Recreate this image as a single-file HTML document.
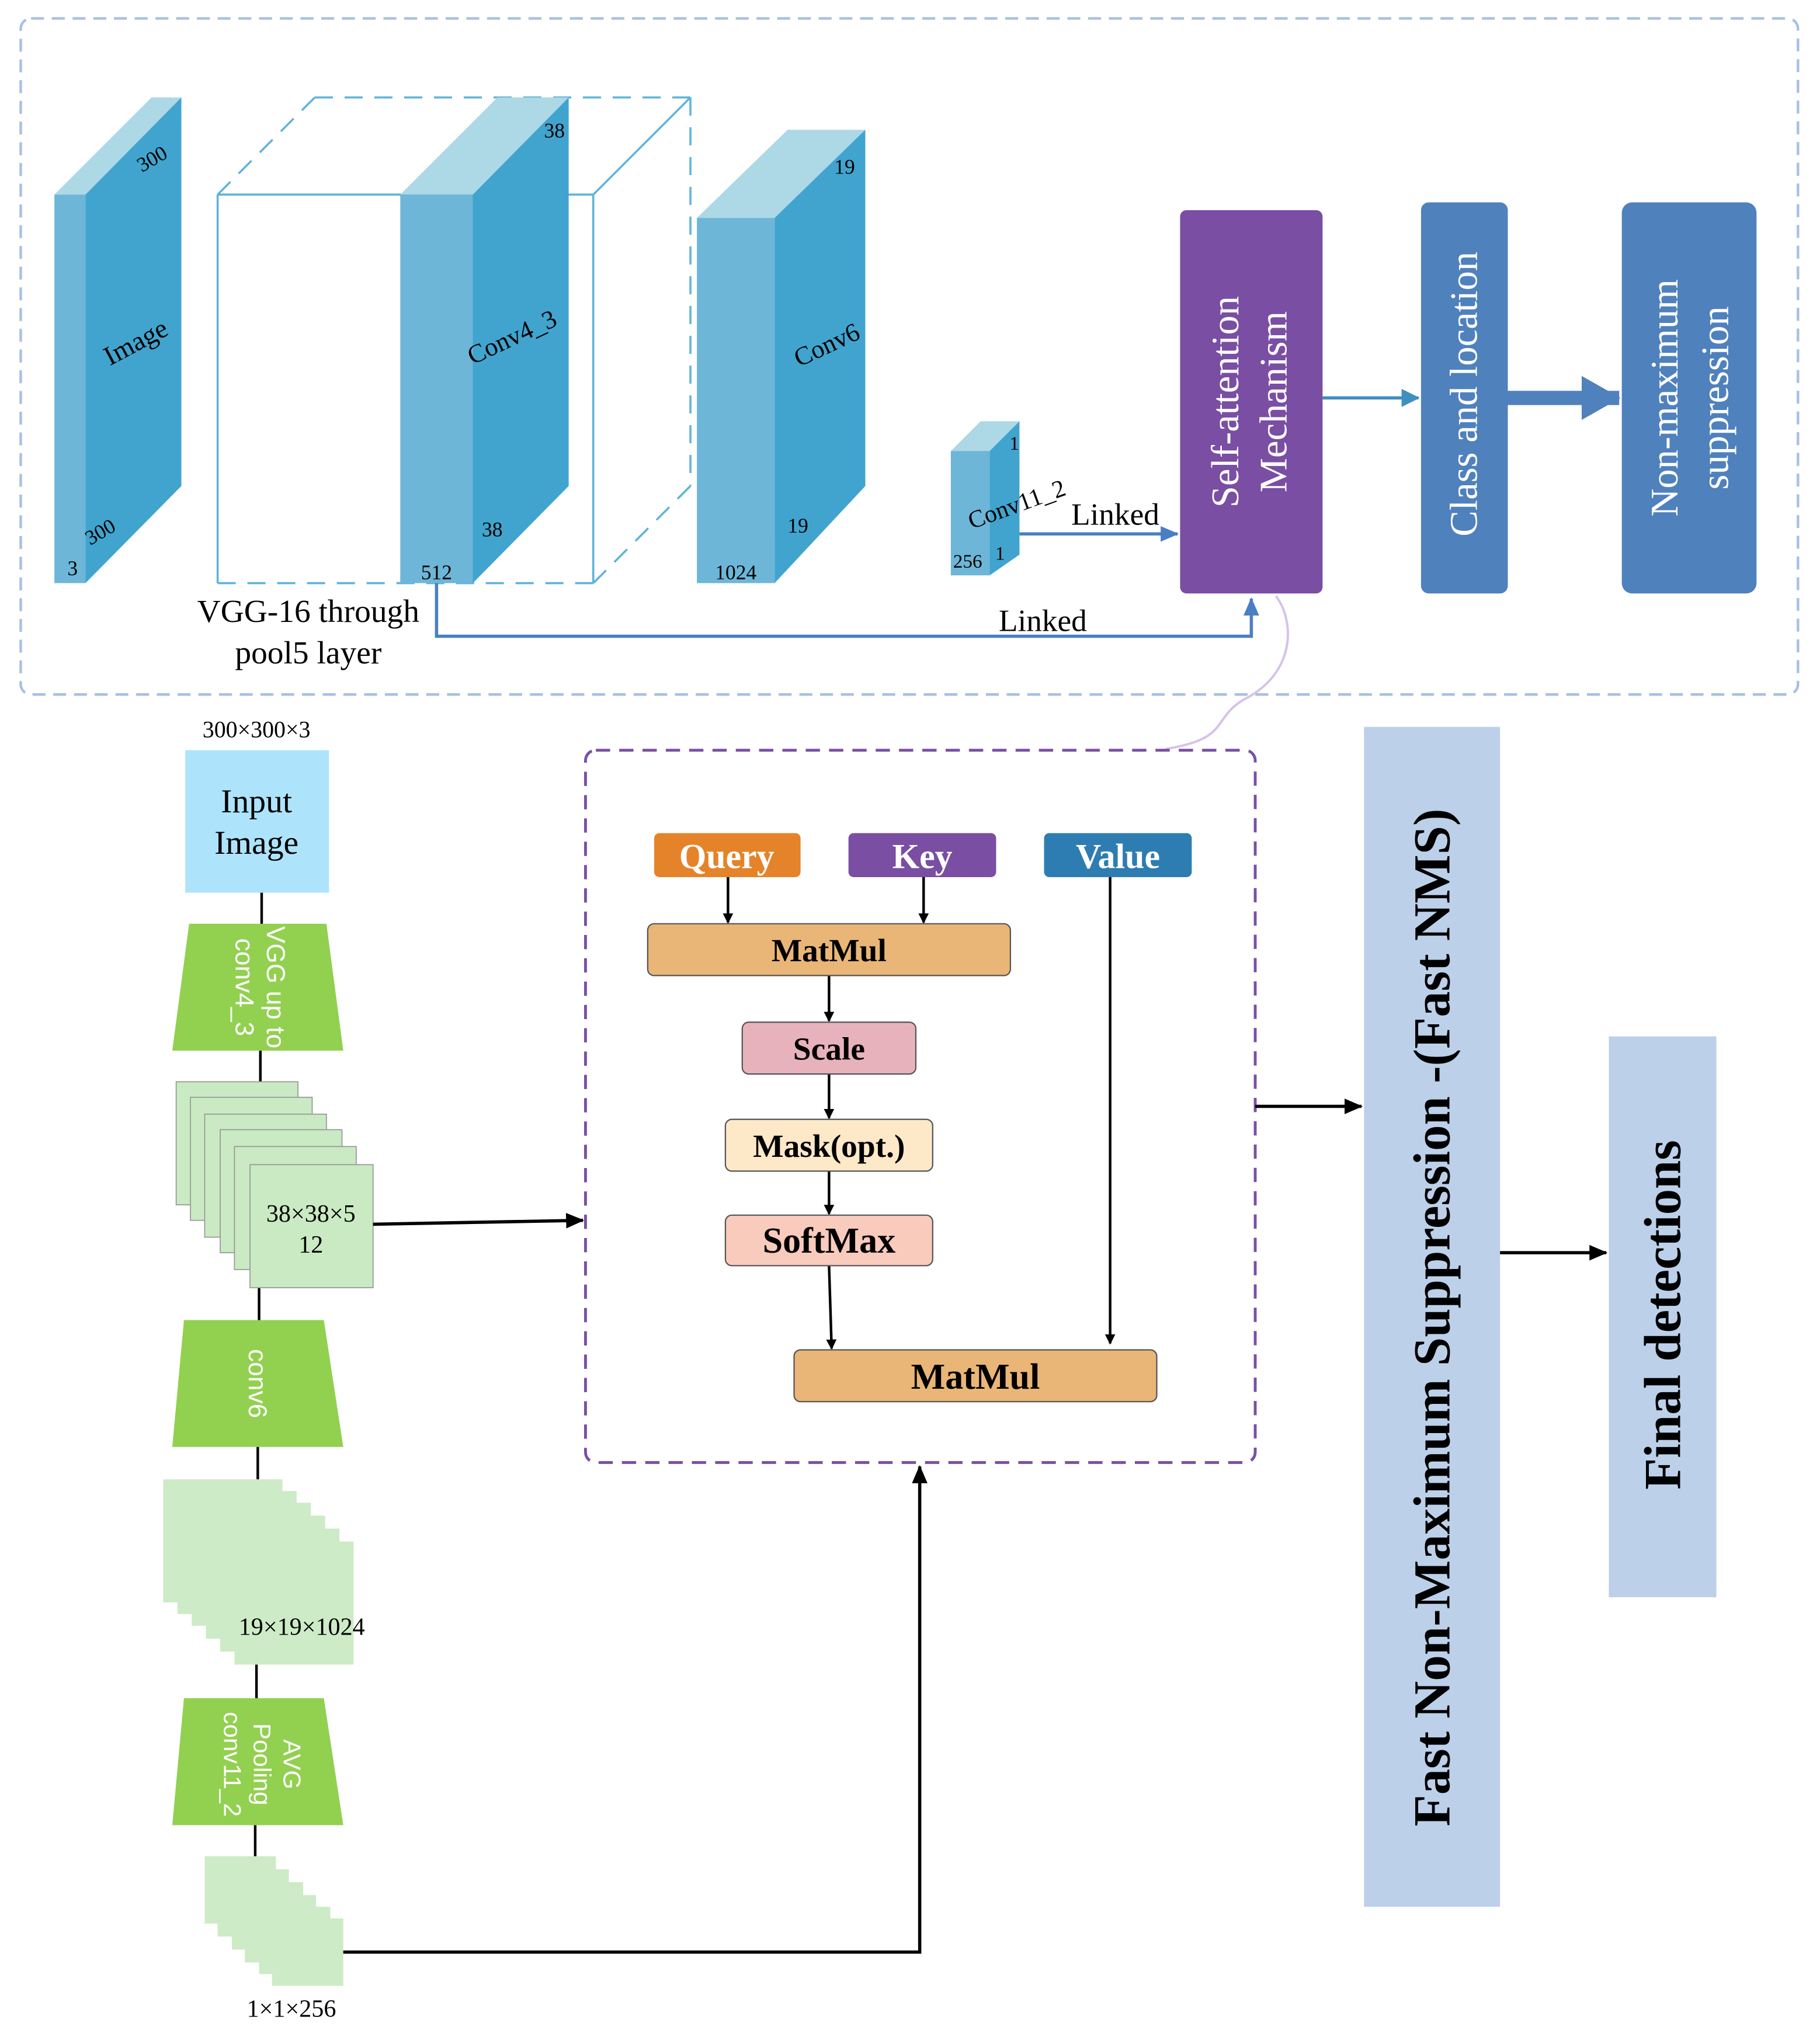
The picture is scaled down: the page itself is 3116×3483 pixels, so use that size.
<!DOCTYPE html>
<html><head><meta charset="utf-8"><style>
html,body{margin:0;padding:0;background:#fff}
svg{display:block}
text{font-family:"Liberation Serif",serif}
</style></head><body>
<svg width="3116" height="3483" viewBox="0 0 1405 1570" xmlns="http://www.w3.org/2000/svg">
<defs>
<marker id="ab" markerWidth="8" markerHeight="8" refX="7" refY="4" orient="auto" markerUnits="userSpaceOnUse"><path d="M0,0 L8,4 L0,8 z" fill="#000"/></marker>
<marker id="ab2" markerWidth="14" markerHeight="12" refX="13" refY="6" orient="auto" markerUnits="userSpaceOnUse"><path d="M0,0 L14,6 L0,12 z" fill="#000"/></marker>
<marker id="abl" markerWidth="14" markerHeight="12" refX="13" refY="6" orient="auto" markerUnits="userSpaceOnUse"><path d="M0,0 L14,6 L0,12 z" fill="#4a7fc4"/></marker>
<marker id="abl2" markerWidth="14" markerHeight="14" refX="13" refY="7" orient="auto" markerUnits="userSpaceOnUse"><path d="M0,0 L14,7 L0,14 z" fill="#3f8fc0"/></marker>
<marker id="abt" markerWidth="30" markerHeight="34" refX="29" refY="17" orient="auto" markerUnits="userSpaceOnUse"><path d="M0,0 L30,17 L0,34 z" fill="#4f81bd"/></marker>
</defs>
<rect x="16" y="14" width="1372" height="522" rx="8" fill="none" stroke="#a9bfe6" stroke-width="2" stroke-dasharray="10,6"/>

<polygon points="42,150 117,75 140,75 66,150" fill="#add8e6"/>
<rect x="42" y="150" width="24" height="300" fill="#6db6d8"/>
<polygon points="66,150 140,75 140,375 66,450" fill="#40a4cf"/>
<text x="120" y="127" font-size="16" transform="rotate(-30 120 127)" text-anchor="middle">300</text>
<text x="108" y="270" font-size="21" transform="rotate(-28 108 270)" text-anchor="middle">Image</text>
<text x="80" y="415" font-size="16" transform="rotate(-30 80 415)" text-anchor="middle">300</text>
<text x="56" y="444" font-size="16" text-anchor="middle">3</text>

<g stroke="#5fb3d8" stroke-width="1.6" fill="none">
<line x1="168" y1="150" x2="458" y2="150"/>
<line x1="168" y1="150" x2="168" y2="450"/>
<line x1="458" y1="150" x2="458" y2="450"/>
<line x1="458" y1="150" x2="533" y2="75"/>
<g stroke-dasharray="14,9">
<line x1="168" y1="450" x2="458" y2="450"/>
<line x1="168" y1="150" x2="243" y2="75"/>
<line x1="243" y1="75" x2="533" y2="75"/>
<line x1="533" y1="75" x2="533" y2="375"/>
<line x1="458" y1="450" x2="533" y2="375"/>
</g></g>
<polygon points="309,150 384,75 439,75 365,150" fill="#add8e6"/>
<rect x="309" y="150" width="56" height="300" fill="#6db6d8"/>
<polygon points="365,150 439,75 439,375 365,450" fill="#40a4cf"/>
<text x="428" y="106" font-size="16" text-anchor="middle">38</text>
<text x="398" y="266" font-size="20" transform="rotate(-25 398 266)" text-anchor="middle">Conv4_3</text>
<text x="380" y="414" font-size="16" text-anchor="middle">38</text>
<text x="337" y="447" font-size="16" text-anchor="middle">512</text>

<polygon points="538,168 608,100 668,100 598,168" fill="#add8e6"/>
<rect x="538" y="168" width="60" height="282" fill="#6db6d8"/>
<polygon points="598,168 668,100 668,375 598,450" fill="#40a4cf"/>
<text x="652" y="134" font-size="16" text-anchor="middle">19</text>
<text x="641" y="272" font-size="20" transform="rotate(-25 641 272)" text-anchor="middle">Conv6</text>
<text x="616" y="411" font-size="16" text-anchor="middle">19</text>
<text x="568" y="447" font-size="16" text-anchor="middle">1024</text>

<polygon points="734,348 757,325 787,325 764,348" fill="#add8e6"/>
<rect x="734" y="348" width="30" height="96" fill="#6db6d8"/>
<polygon points="764,348 787,325 787,428 764,444" fill="#40a4cf"/>
<text x="783" y="347" font-size="15" text-anchor="middle">1</text>
<text x="787" y="395" font-size="19" transform="rotate(-20 787 395)" text-anchor="middle">Conv11_2</text>
<text x="747" y="438" font-size="15" text-anchor="middle">256</text>
<text x="772" y="432" font-size="15" text-anchor="middle">1</text>
<line x1="787" y1="412" x2="909" y2="412" stroke="#4a7fc4" stroke-width="2.5" marker-end="url(#abl)"/>
<text x="861" y="405" font-size="24" text-anchor="middle">Linked</text>

<rect x="911" y="162" width="110" height="296" rx="5" fill="#7a4ea3"/>
<text font-size="30" fill="#fff" text-anchor="middle" transform="translate(956 310) rotate(-90)">Self-attention</text>
<text font-size="30" fill="#fff" text-anchor="middle" transform="translate(993 310) rotate(-90)">Mechanism</text>
<line x1="1021" y1="307" x2="1095" y2="307" stroke="#3f8fc0" stroke-width="2.5" marker-end="url(#abl2)"/>
<rect x="1097" y="156" width="67" height="302" rx="6" fill="#4f81bd"/>
<text font-size="30" fill="#fff" text-anchor="middle" transform="translate(1140 304) rotate(-90)">Class and location</text>
<line x1="1164" y1="307" x2="1250" y2="307" stroke="#4f81bd" stroke-width="11" marker-end="url(#abt)"/>
<rect x="1252" y="156" width="104" height="302" rx="8" fill="#4f81bd"/>
<text font-size="30" fill="#fff" text-anchor="middle" transform="translate(1295 307) rotate(-90)">Non-maximum</text>
<text font-size="30" fill="#fff" text-anchor="middle" transform="translate(1334 307) rotate(-90)">suppression</text>

<polyline points="337,450 337,491 966,491 966,462" fill="none" stroke="#4a7fc4" stroke-width="2.5" marker-end="url(#abl)"/>
<text x="805" y="487" font-size="24" text-anchor="middle">Linked</text>
<text x="238" y="480" font-size="25" text-anchor="middle">VGG-16 through</text>
<text x="238" y="512" font-size="25" text-anchor="middle">pool5 layer</text>
<path d="M985,460 C1000,480 1000,520 960,540 C935,555 950,570 900,578" fill="none" stroke="#d6c2ec" stroke-width="1.8"/>

<text x="198" y="569" font-size="18" text-anchor="middle">300×300×3</text>
<rect x="143" y="579" width="111" height="110" fill="#aee4fb"/>
<text x="198" y="627" font-size="26" text-anchor="middle">Input</text>
<text x="198" y="659" font-size="26" text-anchor="middle">Image</text>
<g stroke="#000" stroke-width="2">
<line x1="202" y1="689" x2="202" y2="713"/>
<line x1="201" y1="811" x2="201" y2="835"/>
<line x1="200" y1="993" x2="200" y2="1019"/>
<line x1="199" y1="1117" x2="199" y2="1142"/>
<line x1="198" y1="1285" x2="198" y2="1311"/>
<line x1="197" y1="1409" x2="197" y2="1433"/>
</g>
<polygon points="146,713 252,713 265,811 133,811" fill="#92d050"/>
<text font-size="20" fill="#fff" text-anchor="middle" transform="translate(206 762) rotate(90)" style="font-family:'Liberation Sans',sans-serif">VGG up to</text>
<text font-size="20" fill="#fff" text-anchor="middle" transform="translate(182 762) rotate(90)" style="font-family:'Liberation Sans',sans-serif">conv4_3</text>

<g fill="#c9eac2" stroke="#9a9a9a" stroke-width="0.8">
<rect x="136" y="835" width="94" height="95"/>
<rect x="147" y="847" width="94" height="95"/>
<rect x="158" y="860" width="94" height="95"/>
<rect x="170" y="872" width="94" height="95"/>
<rect x="181" y="885" width="94" height="95"/>
<rect x="193" y="899" width="95" height="95"/>
</g>
<text x="240" y="943" font-size="19" text-anchor="middle">38×38×5</text>
<text x="240" y="967" font-size="19" text-anchor="middle">12</text>
<line x1="288" y1="945" x2="450" y2="942" stroke="#000" stroke-width="2.5" marker-end="url(#ab2)"/>

<polygon points="142,1019 250,1019 265,1117 133,1117" fill="#92d050"/>
<text font-size="20" fill="#fff" text-anchor="middle" transform="translate(192 1068) rotate(90)" style="font-family:'Liberation Sans',sans-serif">conv6</text>

<g fill="#cdebc6">
<rect x="126" y="1142" width="92" height="95"/>
<rect x="137" y="1151" width="92" height="95"/>
<rect x="148" y="1160" width="92" height="95"/>
<rect x="159" y="1170" width="92" height="95"/>
<rect x="170" y="1180" width="92" height="95"/>
<rect x="181" y="1190" width="92" height="95"/>
</g>
<text x="233" y="1262" font-size="19" text-anchor="middle">19×19×1024</text>

<polygon points="142,1311 250,1311 265,1409 133,1409" fill="#92d050"/>
<text font-size="19" fill="#fff" text-anchor="middle" transform="translate(219 1362) rotate(90)" style="font-family:'Liberation Sans',sans-serif">AVG</text>
<text font-size="19" fill="#fff" text-anchor="middle" transform="translate(196 1362) rotate(90)" style="font-family:'Liberation Sans',sans-serif">Pooling</text>
<text font-size="19" fill="#fff" text-anchor="middle" transform="translate(173 1362) rotate(90)" style="font-family:'Liberation Sans',sans-serif">conv11_2</text>

<g fill="#cdebc6">
<rect x="158" y="1433" width="55" height="52"/>
<rect x="168" y="1443" width="55" height="52"/>
<rect x="179" y="1453" width="55" height="52"/>
<rect x="189" y="1463" width="55" height="52"/>
<rect x="200" y="1472" width="55" height="52"/>
<rect x="210" y="1481" width="55" height="52"/>
</g>
<text x="225" y="1557" font-size="19" text-anchor="middle">1×1×256</text>
<polyline points="265,1507 710,1507 710,1132" fill="none" stroke="#000" stroke-width="2.5" marker-end="url(#ab2)"/>

<rect x="452" y="579" width="517" height="550" rx="8" fill="none" stroke="#7b4fa6" stroke-width="2.2" stroke-dasharray="11,7"/>
<rect x="505" y="643" width="113" height="34" rx="4" fill="#e5832a"/>
<text x="561" y="670" font-size="27" font-weight="bold" fill="#fff" text-anchor="middle">Query</text>
<rect x="655" y="643" width="114" height="34" rx="4" fill="#7a4ea3"/>
<text x="712" y="670" font-size="27" font-weight="bold" fill="#fff" text-anchor="middle">Key</text>
<rect x="806" y="643" width="114" height="34" rx="4" fill="#2e7db2"/>
<text x="863" y="670" font-size="27" font-weight="bold" fill="#fff" text-anchor="middle">Value</text>
<g stroke="#000" stroke-width="2">
<line x1="562" y1="677" x2="562" y2="712" marker-end="url(#ab)"/>
<line x1="713" y1="677" x2="713" y2="712" marker-end="url(#ab)"/>
<line x1="640" y1="753" x2="640" y2="788" marker-end="url(#ab)"/>
<line x1="640" y1="829" x2="640" y2="863" marker-end="url(#ab)"/>
<line x1="640" y1="904" x2="640" y2="937" marker-end="url(#ab)"/>
<line x1="640" y1="977" x2="642" y2="1041" marker-end="url(#ab)"/>
<line x1="857" y1="677" x2="857" y2="1037" marker-end="url(#ab)"/>
</g>
<g stroke="#555" stroke-width="1">
<rect x="500" y="713" width="280" height="40" rx="5" fill="#e9b677"/>
<rect x="573" y="789" width="134" height="40" rx="5" fill="#e8b2bd"/>
<rect x="560" y="864" width="160" height="40" rx="5" fill="#fde8c8"/>
<rect x="560" y="938" width="160" height="39" rx="5" fill="#f9cbbd"/>
<rect x="613" y="1042" width="280" height="40" rx="5" fill="#e9b677"/>
</g>
<text x="640" y="742" font-size="25" font-weight="bold" text-anchor="middle">MatMul</text>
<text x="640" y="818" font-size="25" font-weight="bold" text-anchor="middle">Scale</text>
<text x="640" y="893" font-size="25" font-weight="bold" text-anchor="middle">Mask(opt.)</text>
<text x="640" y="967" font-size="28" font-weight="bold" text-anchor="middle">SoftMax</text>
<text x="753" y="1072" font-size="28" font-weight="bold" text-anchor="middle">MatMul</text>

<line x1="969" y1="854" x2="1051" y2="854" stroke="#000" stroke-width="2.5" marker-end="url(#ab2)"/>
<rect x="1053" y="561" width="105" height="911" fill="#bcd0e9"/>
<text font-size="40" font-weight="bold" text-anchor="middle" transform="translate(1119 1017) rotate(-90)">Fast Non-Maximum Suppression -(Fast NMS)</text>
<line x1="1158" y1="967" x2="1240" y2="967" stroke="#000" stroke-width="2.5" marker-end="url(#ab2)"/>
<rect x="1242" y="800" width="83" height="433" fill="#bcd0e9"/>
<text font-size="40" font-weight="bold" text-anchor="middle" transform="translate(1297 1015) rotate(-90)">Final detections</text>
</svg>
</body></html>
